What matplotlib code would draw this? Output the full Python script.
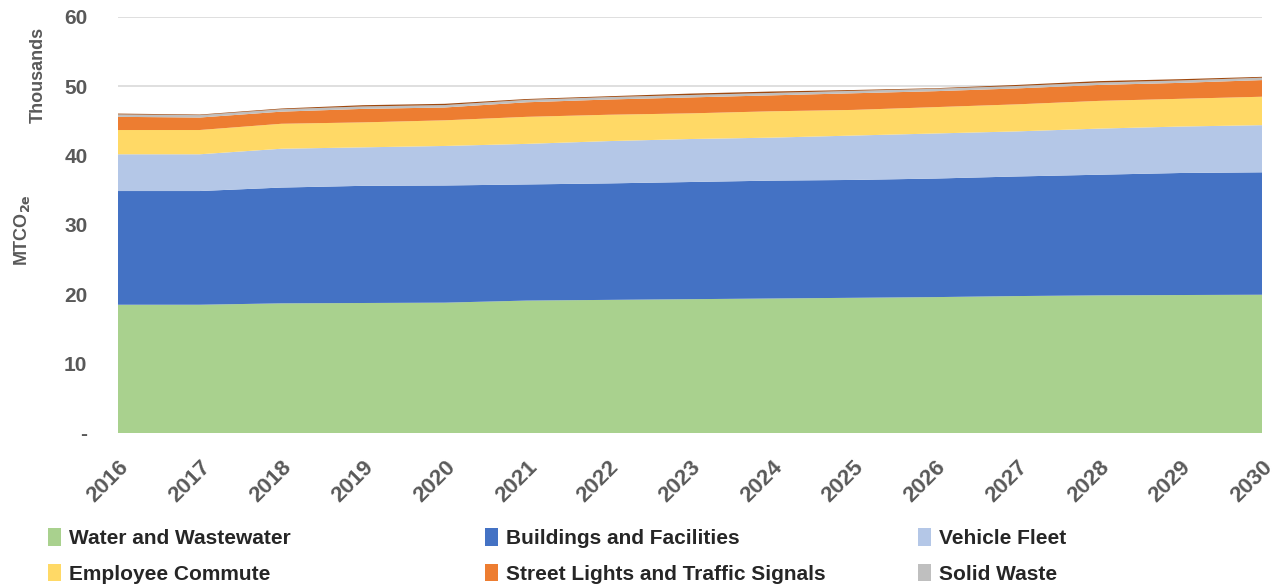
import matplotlib
matplotlib.use("Agg")
import matplotlib.pyplot as plt
from matplotlib.patches import Patch
import numpy as np

years = list(range(2016, 2031))
water = [18.5, 18.5, 18.7, 18.75, 18.8, 19.1, 19.2, 19.3, 19.4, 19.5, 19.6, 19.75, 19.85, 19.9, 19.95]
buildings = [16.4, 16.4, 16.7, 16.9, 16.9, 16.75, 16.8, 16.9, 17.0, 17.0, 17.1, 17.25, 17.4, 17.6, 17.65]
vehicle = [5.3, 5.3, 5.6, 5.55, 5.7, 5.85, 6.1, 6.2, 6.2, 6.4, 6.5, 6.5, 6.65, 6.7, 6.8]
employee = [3.5, 3.5, 3.6, 3.6, 3.7, 3.9, 3.8, 3.7, 3.8, 3.7, 3.8, 3.9, 4.0, 4.0, 4.1]
street = [1.9, 1.8, 1.75, 1.95, 1.85, 2.1, 2.2, 2.3, 2.3, 2.4, 2.3, 2.3, 2.3, 2.3, 2.4]
solid = [0.35, 0.35, 0.35, 0.35, 0.35, 0.35, 0.35, 0.35, 0.35, 0.35, 0.35, 0.35, 0.35, 0.35, 0.35]
other = [0.12, 0.08, 0.1, 0.18, 0.18, 0.12, 0.12, 0.2, 0.2, 0.12, 0.08, 0.15, 0.2, 0.18, 0.12]

labels = ["Water and Wastewater", "Buildings and Facilities", "Vehicle Fleet",
          "Employee Commute", "Street Lights and Traffic Signals", "Solid Waste"]
colors = ["#A9D18E", "#4472C4", "#B4C7E7", "#FFD966", "#ED7D31", "#BFBFBF", "#9E480E"]
ytick_vals = [0, 10, 20, 30, 40, 50, 60]
ytick_labels = ["-", "10", "20", "30", "40", "50", "60"]

plt.rcParams['font.family'] = ['Liberation Sans', 'DejaVu Sans']
grey = "#595959"

fig = plt.figure(figsize=(12.75, 5.88), dpi=100)
ax = fig.add_axes([118/1275, 1-433/588, (1262-118)/1275, (433-17)/588])

ax.stackplot(years, water, buildings, vehicle, employee, street, solid, other,
             colors=colors, linewidth=0, zorder=2)

ax.set_xlim(2016, 2030)
ax.set_ylim(0, 60)
ax.set_yticks(ytick_vals)
ax.set_yticklabels(ytick_labels)
ax.yaxis.grid(True, color="#D9D9D9", linewidth=1.2, zorder=0)
ax.set_axisbelow(True)
for s in ax.spines.values():
    s.set_visible(False)
ax.tick_params(axis='y', length=0, labelsize=15, labelcolor=grey, pad=22)
ax.set_xticks(years)
ax.set_xticklabels([str(y) for y in years], rotation=45, ha='right',
                   rotation_mode='anchor', fontsize=16, color=grey, fontweight='bold')
ax.tick_params(axis='x', length=0, pad=17)
for t in ax.get_yticklabels():
    t.set_fontweight('bold')

fig.text(38/1275, 1-75/588, "Thousands", rotation=90, ha='center', va='center',
         fontsize=13, color=grey, fontweight='bold')
fig.text(22/1275, 1-230/588, r"MTCO$_{\mathbf{2e}}$", rotation=90, ha='center', va='center',
         fontsize=13, color=grey, fontweight='bold')

handles = [Patch(facecolor=c, edgecolor='none') for c in colors[:6]]
cols = [(50, [0, 3]), (487, [1, 4]), (920, [2, 5])]
for x0, idx in cols:
    leg = fig.legend([handles[i] for i in idx], [labels[i] for i in idx],
                     loc='upper left', bbox_to_anchor=(x0/1275 - 0.008, 1-520/588),
                     frameon=False, fontsize=15, handlelength=0.6, handleheight=0.9,
                     handletextpad=0.4, labelspacing=0.75, borderaxespad=0)
    for t in leg.get_texts():
        t.set_color("#262626")
        t.set_fontweight('bold')

fig.savefig("out.png", dpi=100)
